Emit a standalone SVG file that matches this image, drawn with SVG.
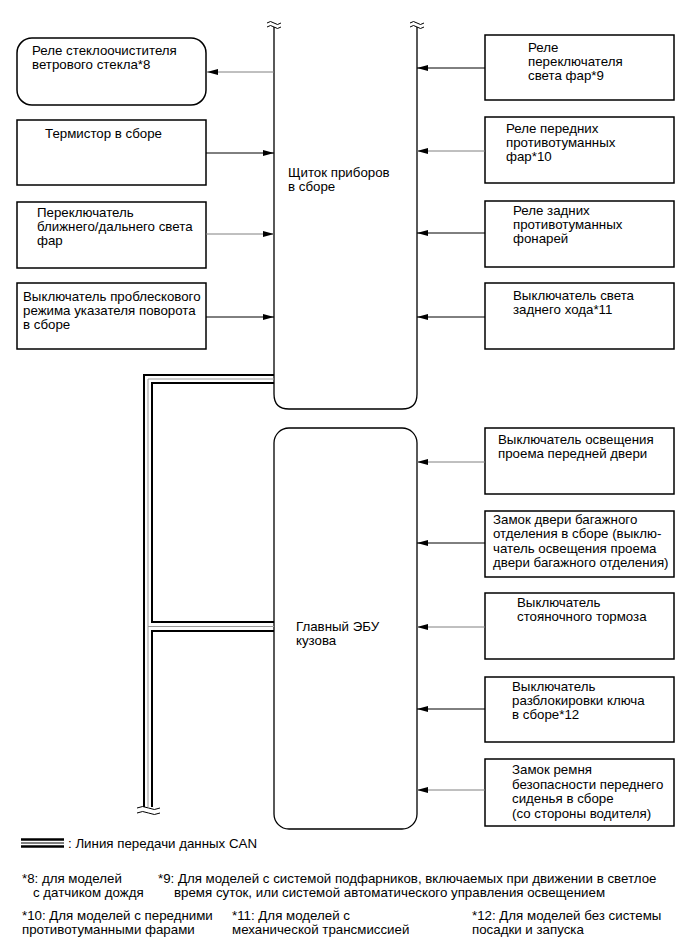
<svg xmlns="http://www.w3.org/2000/svg" width="691" height="952" viewBox="0 0 691 952">
<defs>
<marker id="ah" markerWidth="11" markerHeight="6" refX="11" refY="3" orient="auto" markerUnits="userSpaceOnUse"><path d="M0,0 L11,3 L0,6 z" fill="#000"/></marker>
<style>
text{font-family:"Liberation Sans",Arial,sans-serif;font-size:13.3px;fill:#000}
.box{fill:#fff;stroke:#000;stroke-width:1.5}
.ecu{fill:none;stroke:#000;stroke-width:1.3}
.c{stroke:#000;stroke-width:1;fill:none;marker-end:url(#ah)}
.g{stroke:#808080}
.bk{stroke:#000;stroke-width:2;fill:none}
.gr{stroke:#999;stroke-width:1;fill:none}
.wv{stroke:#000;stroke-width:1;fill:none}
</style>
</defs>
<rect width="691" height="952" fill="#fff"/>

<g id="cluster">
<path class="ecu" d="M274,27 V394 Q274,409 289,409 H402 Q417,409 417,394 V27"/>
<path class="wv" d="M267,23 q3.5,-3 7,0 t7,0 M267,27 q3.5,-3 7,0 t7,0 M410,23 q3.5,-3 7,0 t7,0 M410,27 q3.5,-3 7,0 t7,0"/>
<text x="288" y="177">Щиток приборов</text>
<text x="288" y="191">в сборе</text>
</g>

<g id="body-ecu">
<rect class="ecu" x="274" y="428" width="143" height="401" rx="15"/>
<text x="296" y="631">Главный ЭБУ</text>
<text x="296" y="645">кузова</text>
</g>

<g id="wiper-relay">
<rect class="box" x="17" y="38" width="189" height="67" rx="15"/>
<text x="32" y="55">Реле стеклоочистителя</text>
<text x="32" y="69">ветрового стекла*8</text>
</g>
<g id="thermistor">
<rect class="box" x="17" y="120" width="189" height="65"/>
<text x="45" y="138">Термистор в сборе</text>
</g>
<g id="dimmer-switch">
<rect class="box" x="17" y="202" width="189" height="66"/>
<text x="37" y="217">Переключатель</text>
<text x="37" y="231">ближнего/дальнего света</text>
<text x="37" y="245">фар</text>
</g>
<g id="hazard-switch">
<rect class="box" x="17" y="283" width="189" height="66"/>
<text x="23" y="301">Выключатель проблескового</text>
<text x="23" y="315">режима указателя поворота</text>
<text x="23" y="329">в сборе</text>
</g>

<g id="headlight-relay">
<rect class="box" x="485" y="35" width="189" height="65"/>
<text x="528" y="52">Реле</text>
<text x="528" y="66">переключателя</text>
<text x="528" y="80">света фар*9</text>
</g>
<g id="front-fog-relay">
<rect class="box" x="485" y="117" width="189" height="66"/>
<text x="506" y="133">Реле передних</text>
<text x="506" y="147">противотуманных</text>
<text x="506" y="161">фар*10</text>
</g>
<g id="rear-fog-relay">
<rect class="box" x="485" y="201" width="189" height="66"/>
<text x="513" y="215">Реле задних</text>
<text x="513" y="229">противотуманных</text>
<text x="513" y="243">фонарей</text>
</g>
<g id="backup-switch">
<rect class="box" x="485" y="283" width="189" height="66"/>
<text x="513" y="300">Выключатель света</text>
<text x="513" y="314">заднего хода*11</text>
</g>

<g id="front-door-switch">
<rect class="box" x="485" y="428" width="189" height="66"/>
<text x="498" y="444">Выключатель освещения</text>
<text x="498" y="458">проема передней двери</text>
</g>
<g id="trunk-lock">
<rect class="box" x="485" y="511" width="189" height="66"/>
<text x="493" y="524">Замок двери багажного</text>
<text x="493" y="538">отделения в сборе (выклю-</text>
<text x="493" y="553">чатель освещения проема</text>
<text x="493" y="567">двери багажного отделения)</text>
</g>
<g id="parking-brake-switch">
<rect class="box" x="485" y="593" width="189" height="66"/>
<text x="517" y="607">Выключатель</text>
<text x="517" y="621">стояночного тормоза</text>
</g>
<g id="key-unlock-switch">
<rect class="box" x="485" y="677" width="189" height="65"/>
<text x="512" y="691">Выключатель</text>
<text x="512" y="705">разблокировки ключа</text>
<text x="512" y="719">в сборе*12</text>
</g>
<g id="seatbelt-buckle">
<rect class="box" x="485" y="759" width="189" height="67"/>
<text x="512" y="774">Замок ремня</text>
<text x="512" y="789">безопасности переднего</text>
<text x="512" y="803">сиденья в сборе</text>
<text x="512" y="818">(со стороны водителя)</text>
</g>

<g id="connectors">
<line class="c g" x1="274" y1="72" x2="207" y2="72"/>
<line class="c" x1="206" y1="153" x2="274" y2="153"/>
<line class="c g" x1="206" y1="234" x2="274" y2="234"/>
<line class="c" x1="206" y1="317" x2="274" y2="317"/>
<line class="c" x1="485" y1="68" x2="417" y2="68"/>
<line class="c g" x1="485" y1="151" x2="417" y2="151"/>
<line class="c" x1="485" y1="233" x2="417" y2="233"/>
<line class="c" x1="485" y1="317" x2="417" y2="317"/>
<line class="c g" x1="485" y1="462" x2="417" y2="462"/>
<line class="c" x1="485" y1="543" x2="417" y2="543"/>
<line class="c g" x1="485" y1="627" x2="417" y2="627"/>
<line class="c" x1="485" y1="709" x2="417" y2="709"/>
<line class="c g" x1="485" y1="790" x2="417" y2="790"/>
<g id="can-bus">
<path class="gr" d="M274,379 H148 V807 M148,626.5 H274"/>
<path class="bk" d="M274,375 H144 V807"/>
<path class="bk" d="M274,383 H152 V622 H274 M274,631 H152 V807"/>
<path class="wv" d="M137,808 q5.5,-3 11.5,0 t11.5,0 M137,813 q5.5,-3 11.5,0 t11.5,0"/>
</g>
</g>

<g id="legend">
<line x1="21" y1="839.5" x2="64" y2="839.5" stroke="#000" stroke-width="2.5"/>
<line x1="21" y1="843" x2="64" y2="843" stroke="#000" stroke-width="1"/>
<line x1="21" y1="846.5" x2="64" y2="846.5" stroke="#000" stroke-width="2.5"/>
<text x="68" y="848">: Линия передачи данных CAN</text>
</g>

<g id="notes">
<text x="22" y="883">*8: для моделей</text>
<text x="33" y="897">с датчиком дождя</text>
<text x="158" y="883">*9: Для моделей с системой подфарников, включаемых при движении в светлое</text>
<text x="174" y="897">время суток, или системой автоматического управления освещением</text>
<text x="22" y="920">*10: Для моделей с передними</text>
<text x="22" y="934">противотуманными фарами</text>
<text x="232" y="920">*11: Для моделей с</text>
<text x="232" y="934">механической трансмиссией</text>
<text x="472" y="920">*12: Для моделей без системы</text>
<text x="472" y="934">посадки и запуска</text>
</g>
</svg>
